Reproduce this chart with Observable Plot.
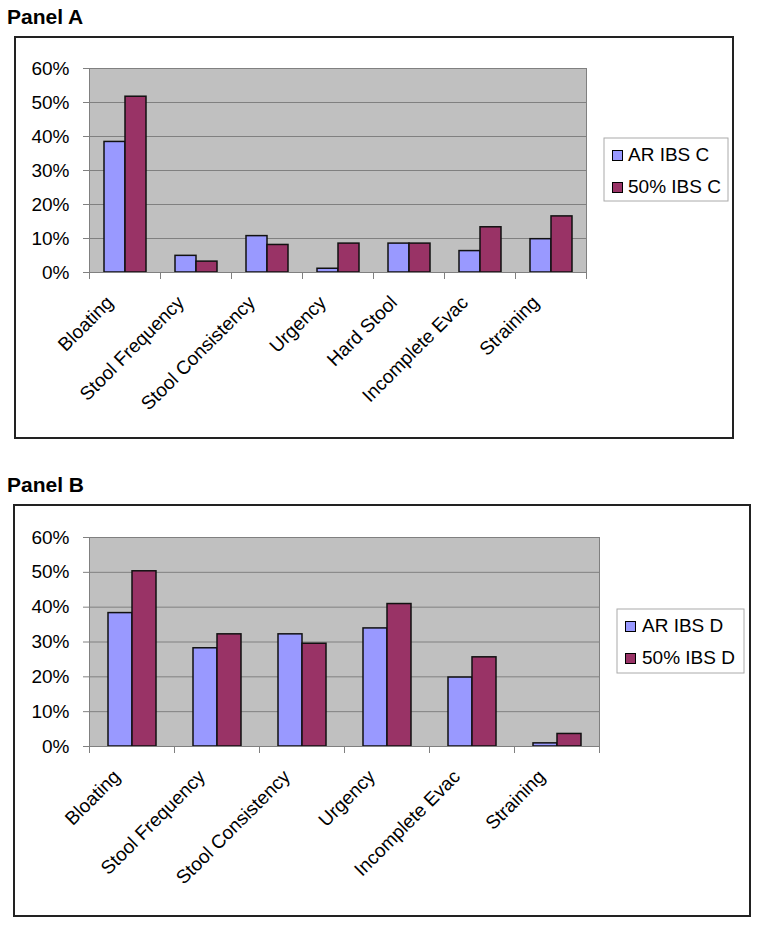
<!DOCTYPE html>
<html><head><meta charset="utf-8">
<script src="https://cdn.jsdelivr.net/npm/d3@7"></script>
<script src="https://cdn.jsdelivr.net/npm/@observablehq/plot@0.6"></script>
<style>
body{margin:0;background:#fff;font-family:"Liberation Sans",Arial,sans-serif;}
#page{position:relative;width:760px;height:925px;overflow:hidden;}
.title{position:absolute;left:7px;font-weight:bold;font-size:21px;line-height:21px;color:#000;}
.frame{position:absolute;border:2px solid #222;box-sizing:border-box;pointer-events:none;}
.chart{position:absolute;left:0;}
</style></head><body><div id="page"></div>
<script>
// ---- data ----
const categoriesA = ["Bloating","Stool Frequency","Stool Consistency","Urgency","Hard Stool","Incomplete Evac","Straining"];
const seriesA = ["AR IBS C","50% IBS C"];
const arIbsC = [0.384, 0.049, 0.107, 0.011, 0.085, 0.063, 0.098];
const halfIbsC = [0.517, 0.032, 0.081, 0.085, 0.085, 0.133, 0.165];

const categoriesB = ["Bloating","Stool Frequency","Stool Consistency","Urgency","Incomplete Evac","Straining"];
const seriesB = ["AR IBS D","50% IBS D"];
const arIbsD = [0.383, 0.282, 0.322, 0.339, 0.198, 0.009];
const halfIbsD = [0.503, 0.322, 0.295, 0.409, 0.256, 0.036];

const yTicks = [0, 0.1, 0.2, 0.3, 0.4, 0.5, 0.6];
const yTickLabels = ["0%","10%","20%","30%","40%","50%","60%"];
const seriesColors = ["#9999ff","#993366"];

const FONT = "'Liberation Sans', Arial, sans-serif";
const page = document.getElementById("page");

function panel(o) {
  const t = document.createElement("div");
  t.className = "title"; t.textContent = o.title; t.style.top = o.titleTop + "px";
  page.appendChild(t);

  const plotH = o.svgHeight - o.m[2] - o.m[3];
  const data = o.cats.flatMap((c, i) => o.series.map((s, j) => ({category: c, series: s, value: o.values[j][i]})));
  const chart = Plot.plot({
    width: 760, height: o.svgHeight,
    marginLeft: o.m[0], marginRight: o.m[1], marginTop: o.m[2], marginBottom: o.m[3],
    style: {fontFamily: FONT, fontSize: "19px", color: "#000", background: "transparent", overflow: "visible"},
    fx: {domain: o.cats, padding: 0, label: null},
    x: {domain: o.series, paddingInner: 0, paddingOuter: o.paddingOuter, axis: null},
    y: {domain: [0, 0.6], label: null},
    color: {domain: o.series, range: seriesColors},
    marks: [
      Plot.frame({fill: "#c0c0c0", stroke: null, facet: "super"}),
      Plot.gridY(yTicks, {stroke: "#808080", strokeOpacity: 1}),
      Plot.barY(data, {fx: "category", x: "series", y: "value", fill: "series", stroke: "#111", strokeWidth: 1.5}),
      Plot.frame({stroke: "#808080", facet: "super"}),
      // category boundary tick marks below the axis
      Plot.frame({anchor: "left", stroke: "#808080", insetTop: plotH, insetBottom: -6}),
      Plot.frame({anchor: "right", stroke: "#808080", insetTop: plotH, insetBottom: -6, facet: "super"}),
      Plot.axisY(yTicks, {tickSize: 6, tickPadding: 14, stroke: "#808080", fill: "#000",
        tickFormat: d => yTickLabels[yTicks.indexOf(d)], label: null}),
      Plot.axisFx({anchor: "bottom", tickSize: 0, tickPadding: o.labelPad, tickRotate: -45, fill: "#000", label: null, dx: -15})
    ]
  });
  chart.classList.add("chart");
  chart.style.top = o.svgTop + "px";
  page.appendChild(chart);

  // legend
  const svg = d3.select(chart);
  const L = o.legend;
  const g = svg.append("g").attr("font-family", FONT).attr("font-size", 19).attr("text-anchor", "start");
  g.append("rect").attr("x", L.x).attr("y", L.y).attr("width", L.w).attr("height", L.h)
    .attr("fill", "#fff").attr("stroke", "#aaa");
  o.series.forEach((s, j) => {
    const by = L.baselines[j];
    g.append("rect").attr("x", L.sx).attr("y", by - 10.5).attr("width", 10).attr("height", 10)
      .attr("fill", seriesColors[j]).attr("stroke", "#000");
    g.append("text").attr("x", L.tx).attr("y", by).attr("fill", "#000").attr("text-anchor", "start").text(s);
  });

  const f = document.createElement("div");
  f.className = "frame";
  Object.assign(f.style, {left: o.frame[0] + "px", top: o.frame[1] + "px",
    width: (o.frame[2] - o.frame[0]) + "px", height: (o.frame[3] - o.frame[1]) + "px"});
  page.appendChild(f);
}

panel({
  title: "Panel A", titleTop: 6,
  cats: categoriesA, series: seriesA, values: [arIbsC, halfIbsC],
  svgTop: 36, svgHeight: 402, m: [86, 172, 32, 166], paddingOuter: 0.667, labelPad: 27,
  frame: [14, 36, 734, 439],
  legend: {x: 604, y: 102, w: 124, h: 63, sx: 612.5, tx: 628, baselines: [125, 157]}
});
panel({
  title: "Panel B", titleTop: 474,
  cats: categoriesB, series: seriesB, values: [arIbsD, halfIbsD],
  svgTop: 504, svgHeight: 412, m: [87, 160, 33, 170], paddingOuter: 0.745, labelPad: 27,
  frame: [13, 504, 751, 917],
  legend: {x: 617, y: 105, w: 127, h: 64, sx: 625.5, tx: 642, baselines: [128, 160]}
});
</script></body></html>
